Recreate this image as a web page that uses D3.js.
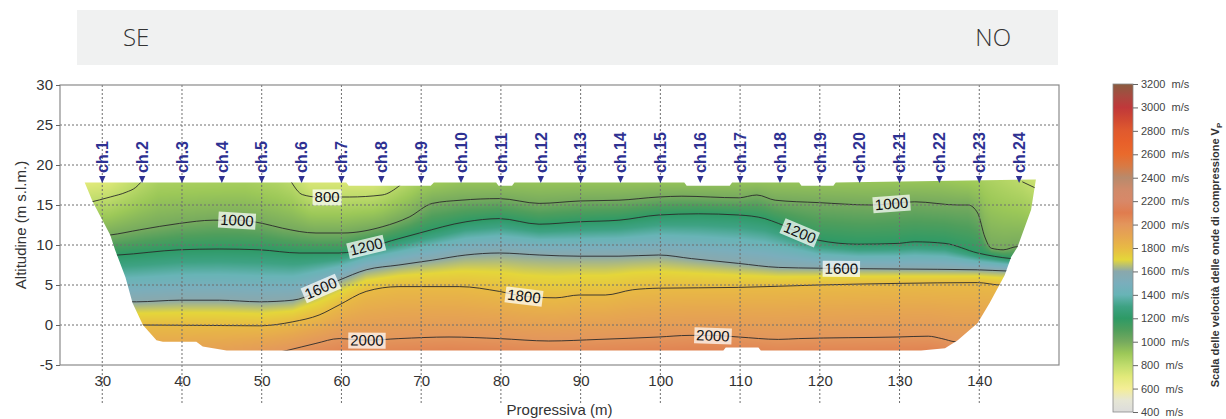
<!DOCTYPE html>
<html lang="it">
<head>
<meta charset="UTF-8">
<title>Sezione tomografica</title>
<style>
  body { margin: 0; background: #fff; }
  svg text { font-family: "Liberation Sans", Arial, sans-serif; }
</style>
</head>
<body>
<div id="chart"></div>
<script src="https://cdn.jsdelivr.net/npm/d3@7/dist/d3.min.js"></script>
<script>
const width = 1226, height = 419;

// ticks
const xTicks = [30, 40, 50, 60, 70, 80, 90, 100, 110, 120, 130, 140];
const yTicks = [-5, 0, 5, 10, 15, 20, 25, 30];
const legendTicks = [400, 600, 800, 1000, 1200, 1400, 1600, 1800, 2000, 2200, 2400, 2600, 2800, 3000, 3200];

// geofoni
const chNames = ["ch.1","ch.2","ch.3","ch.4","ch.5","ch.6","ch.7","ch.8","ch.9","ch.10","ch.11","ch.12",
                 "ch.13","ch.14","ch.15","ch.16","ch.17","ch.18","ch.19","ch.20","ch.21","ch.22","ch.23","ch.24"];
const chPos = [30, 35, 40, 45, 50, 55, 60, 65, 70, 75, 80, 85, 90, 95, 100, 105, 110, 115, 120, 125, 130, 135, 140, 145];

// scala colori Vp (m/s)
const vpStops  = [400, 500, 600, 700, 800, 900, 1000, 1100, 1200, 1300, 1400, 1500, 1600, 1700, 1800, 1900, 2000, 2100, 2200, 2300, 2400, 2500, 2600, 2700, 2800, 2900, 3000, 3100, 3200];
const vpColors = ["#dcdcdc", "#e6e6d4", "#f4ee96", "#e2ea7a", "#c0dc6c", "#9cc858", "#76aa5e", "#4f9e5c", "#2e9a66", "#3ea283",
                  "#68b4b6", "#7aaebc", "#8aa8ac", "#e4d63a", "#e8ba44", "#e6a650", "#e3965c", "#e07c4e", "#d88868", "#d08a6a",
                  "#b88a6c", "#d87a44", "#e96a2c", "#e8602a", "#e05a2e", "#d04832", "#c0383a", "#a84a40", "#8a5c40"];

// contorno della sezione [x, quota]
const sectionOutline = [[27.8,17.8],[60.6,17.8],[60.9,17.4],[71.2,17.4],[71.6,17.8],[79.4,17.8],[79.7,17.4],[81.4,17.4],[81.7,17.8],
  [103,17.8],[103.3,17.4],[108.7,17.4],[109,17.8],[117.4,17.8],[117.7,17.4],[121.7,17.4],[122,17.8],[147.1,18.2],[146.5,14.4],
  [144.8,9.75],[144,8.5],[143.2,6.25],[141.3,2.75],[139.8,0.25],[137.3,-1.9],[135.7,-2.9],[132.7,-3.2],[112.6,-3.2],[112.3,-2.8],
  [108.2,-2.8],[107.9,-3.2],[45.6,-3.2],[42.6,-2.7],[41.8,-2.1],[37.6,-2.1],[36.8,-1.9],[35.1,0],[33.8,2.75],[32.9,6],[31.6,9.4],
  [31,11.25],[28.8,15.4]];

// velocità in superficie
const surfX  = [27, 31, 34.7, 37, 48, 52, 53.8, 56, 64, 67.4, 70, 75, 135, 140, 145.4, 148];
const surfVp = [670, 700, 800, 850, 860, 830, 800, 710, 700, 790, 860, 900, 900, 870, 800, 740];

// isolinee [x, quota]
const iso800a = [[28.3,15.3],[31,16],[33,16.6],[34.2,17.2],[34.9,17.9]];
const iso800b = [[53.7,17.9],[55.1,16.3],[57,16.0],[61,16.0],[65.1,16.25],[67.4,17.5]];
const iso800c = [[145.4,17.9],[147.3,17.0]];
const iso1000 = [[27,11],[31,11.25],[34.7,11.9],[39.7,12.7],[43.9,13.1],[47,13.1],[50.1,12.7],[52.6,12.1],[56.8,11.5],[60.2,11.5],
  [65.2,12.3],[68.5,13.5],[71.4,15.2],[75,15.6],[79.8,15.8],[84.8,15.2],[89.8,15.5],[94.8,15.6],[99.8,16.0],[102.7,16.1],
  [109.8,15.9],[112.1,16.25],[114.4,15.6],[119.8,15.3],[126.5,15.0],[131.9,15.4],[137.3,15.0],[138.6,15.0],[139.8,14.0],
  [140.7,11.0],[141.5,9.6],[143,9.4],[144.8,9.8],[150,9.8]];
const iso1200 = [[27,8.6],[32,8.75],[39.7,9.4],[44.7,9.5],[49.7,9.4],[54.7,9.0],[59.7,9.0],[67.2,10.8],[69.8,11.5],[75.6,12.9],
  [79.8,13.3],[84.8,12.6],[89.8,12.9],[94.8,13.1],[99.8,13.75],[104.8,13.9],[109.8,13.75],[113.1,13.3],[114.8,12.7],[119.8,10.6],
  [124.8,10.1],[129.8,10.2],[131.9,10.4],[135.7,10.2],[139.8,9.0],[144,8.3],[150,8.0]];
const iso1600 = [[27,2.9],[34.3,2.9],[39.7,3.1],[44.7,3.1],[49.7,2.9],[53.9,3.1],[59.7,5.6],[63.1,6.9],[67.2,7.5],[71.4,8.1],
  [75.6,8.75],[79.8,9.0],[84.8,8.75],[89.8,8.6],[94.8,8.6],[99.8,8.75],[103.9,8.3],[109.8,7.7],[114.8,7.2],[119.8,7.1],
  [129.8,7.0],[139.8,6.9],[143.6,6.75],[150,6.7]];
const iso1800 = [[27,0],[35.1,0],[49.7,-0.1],[53.9,0.4],[57.2,1.25],[59.7,2.5],[63.1,4.2],[67.2,4.8],[74.8,4.8],[79.8,4.2],
  [82.9,3.6],[86.9,3.4],[89.8,3.75],[93.1,3.75],[96.5,4.4],[99.8,4.6],[109.8,4.7],[119.8,5.0],[129.8,5.2],[139.8,5.3],
  [142.7,5.0],[150,5.0]];
const iso2000 = [[27,-6],[45,-4.6],[53.1,-3.2],[56.8,-2.3],[59.7,-1.7],[63.2,-1.9],[67.2,-1.7],[73.5,-1.5],[79.8,-1.7],[86,-2.0],
  [92.3,-1.8],[99.8,-1.5],[103.6,-1.3],[106.4,-1.3],[109.8,-1.5],[114.8,-1.8],[117.3,-1.7],[129.8,-1.5],[133.6,-1.4],
  [135.3,-1.7],[137,-2.1],[150,-2.6]];

// etichette delle isolinee
const labelVp = [800, 1000, 1000, 1200, 1200, 1600, 1600, 1800, 2000, 2000];
const labelX  = [58.2, 46.9, 129, 63.1, 117.5, 57.4, 122.7, 82.9, 63.2, 106.6];

const svg = d3.select("#chart").append("svg")
    .attr("width", width)
    .attr("height", height);

const x = d3.scaleLinear().domain([24.7, 150]).range([60, 1059]);
const y = d3.scaleLinear().domain([-5, 30]).range([365, 85]);
const color = d3.scaleLinear().domain(vpStops).range(vpColors).clamp(true);

// interpolazione lineare su una polilinea
function zAt(pts, xv) {
    if (xv <= pts[0][0]) return pts[0][1];
    for (let i = 1; i < pts.length; i++) {
        if (xv <= pts[i][0]) {
            const t = (xv - pts[i - 1][0]) / (pts[i][0] - pts[i - 1][0]);
            return pts[i - 1][1] + t * (pts[i][1] - pts[i - 1][1]);
        }
    }
    return pts[pts.length - 1][1];
}
const surfPts = surfX.map((d, i) => [d, surfVp[i]]);

// banner SE / NO
svg.append("rect").attr("x", 77).attr("y", 10).attr("width", 981).attr("height", 55).attr("fill", "#f0f1f1");
svg.append("text").attr("x", 123).attr("y", 46).text("SE")
    .style("font-family", "'Open Sans', 'Noto Sans', sans-serif").style("font-weight", 300)
    .style("font-size", "24px").attr("fill", "#333");
svg.append("text").attr("x", 1011).attr("y", 46).attr("text-anchor", "end").text("NO")
    .style("font-family", "'Open Sans', 'Noto Sans', sans-serif").style("font-weight", 300)
    .style("font-size", "24px").attr("fill", "#333");

// campo di velocità su canvas
const x0 = 60, x1 = 1059, y0 = 85, y1 = 365;
const cw = x1 - x0, ch = y1 - y0;
const canvas = document.createElement("canvas");
canvas.width = cw; canvas.height = ch;
const ctx = canvas.getContext("2d");
const img = ctx.createImageData(cw, ch);
for (let i = 0; i < cw; i++) {
    const xv = x.invert(x0 + i + 0.5);
    const z2000 = zAt(iso2000, xv);
    const anchors = [
        [18.3, zAt(surfPts, xv)],
        [zAt(iso1000, xv), 1000],
        [zAt(iso1200, xv), 1200],
        [zAt(iso1600, xv), 1600],
        [zAt(iso1800, xv), 1800],
        [z2000, 2000],
        [z2000 - 4.5, 2180]
    ];
    for (let j = 0; j < ch; j++) {
        const zv = y.invert(y0 + j + 0.5);
        let v;
        if (zv >= anchors[0][0]) v = anchors[0][1];
        else if (zv <= anchors[anchors.length - 1][0]) v = anchors[anchors.length - 1][1];
        else {
            for (let k = 1; k < anchors.length; k++) {
                if (zv >= anchors[k][0]) {
                    const t = (anchors[k - 1][0] - zv) / (anchors[k - 1][0] - anchors[k][0]);
                    v = anchors[k - 1][1] + t * (anchors[k][1] - anchors[k - 1][1]);
                    break;
                }
            }
        }
        const c = d3.rgb(color(v));
        const p = (j * cw + i) * 4;
        img.data[p] = c.r; img.data[p + 1] = c.g; img.data[p + 2] = c.b; img.data[p + 3] = 255;
    }
}
ctx.putImageData(img, 0, 0);

const defs = svg.append("defs");
defs.append("clipPath").attr("id", "section")
    .append("path")
    .attr("d", d3.line().x(d => x(d[0])).y(d => y(d[1]))(sectionOutline) + "Z");

const field = svg.append("g").attr("clip-path", "url(#section)");
field.append("image")
    .attr("x", x0).attr("y", y0).attr("width", cw).attr("height", ch)
    .attr("preserveAspectRatio", "none")
    .attr("href", canvas.toDataURL());

// isolinee
const isoLine = d3.line().x(d => x(d[0])).y(d => y(d[1])).curve(d3.curveMonotoneX);
field.selectAll("path.iso")
    .data([iso800a, iso800b, iso800c, iso1000, iso1200, iso1600, iso1800, iso2000])
    .join("path")
    .attr("class", "iso")
    .attr("d", isoLine)
    .attr("fill", "none")
    .attr("stroke", "#2a2a2a")
    .attr("stroke-width", 0.9);

// griglia tratteggiata
const grid = svg.append("g").attr("stroke", "#6f6f6f").attr("stroke-width", 1).attr("stroke-dasharray", "2,2");
grid.selectAll("line.gx").data(xTicks).join("line")
    .attr("x1", d => x(d)).attr("x2", d => x(d))
    .attr("y1", y(30)).attr("y2", 403);
grid.selectAll("line.gy").data(yTicks.filter(d => d > -5 && d < 30)).join("line")
    .attr("x1", x0).attr("x2", x1)
    .attr("y1", d => y(d)).attr("y2", d => y(d));

// cornice
svg.append("rect").attr("x", x0).attr("y", y0).attr("width", cw).attr("height", ch)
    .attr("fill", "none").attr("stroke", "#8a8a8a").attr("stroke-width", 1.2);

// etichette isolinee
const isoByVp = {1000: iso1000, 1200: iso1200, 1600: iso1600, 1800: iso1800, 2000: iso2000};
const labels = svg.append("g");
labelVp.forEach((v, i) => {
    const pts = v === 800 ? iso800b : isoByVp[v];
    const xv = labelX[i];
    const px = x(xv), py = y(zAt(pts, xv));
    const a = Math.atan2(y(zAt(pts, xv + 1)) - y(zAt(pts, xv - 1)), x(xv + 1) - x(xv - 1)) * 180 / Math.PI;
    const g = labels.append("g").attr("transform", `translate(${px},${py}) rotate(${a})`);
    const box = g.append("rect");
    const t = g.append("text")
        .attr("text-anchor", "middle")
        .attr("dy", "0.36em")
        .style("font-size", "15px")
        .attr("fill", "#111")
        .text(v);
    const bb = t.node().getBBox();
    box.attr("x", bb.x - 2).attr("y", bb.y + 1).attr("width", bb.width + 4).attr("height", bb.height - 1)
        .attr("fill", "#ffffff").attr("fill-opacity", 0.72);
});

// assi
const yAxis = svg.append("g")
    .attr("transform", `translate(${x0},0)`)
    .call(d3.axisLeft(y).tickValues(yTicks).tickSize(4).tickPadding(3).tickFormat(d => String(d)));
const xAxis = svg.append("g")
    .attr("transform", `translate(0,${y1})`)
    .call(d3.axisBottom(x).tickValues(xTicks).tickSize(0).tickPadding(10).tickFormat(d => String(d)));
[yAxis, xAxis].forEach(a => {
    a.select(".domain").remove();
    a.selectAll("line").attr("stroke", "#666");
    a.selectAll("text").style("font-size", "15px").attr("fill", "#333")
        .style("font-family", "'Liberation Sans', Arial, sans-serif");
});

svg.append("text")
    .attr("x", (x0 + x1) / 2).attr("y", 415)
    .attr("text-anchor", "middle")
    .style("font-size", "15px").attr("fill", "#333")
    .text("Progressiva (m)");
svg.append("text")
    .attr("transform", `translate(26,${(y0 + y1) / 2}) rotate(-90)`)
    .attr("text-anchor", "middle")
    .style("font-size", "15px").attr("fill", "#333")
    .text("Altitudine (m s.l.m.)");

// geofoni
const chG = svg.append("g").selectAll("g").data(chNames).join("g")
    .attr("transform", (d, i) => `translate(${x(chPos[i])},0)`);
chG.append("path")
    .attr("d", "M-3.2,176 L3.2,176 L0,183 Z")
    .attr("fill", "#2e3192");
chG.append("text")
    .attr("transform", "translate(0,173) rotate(-90)")
    .attr("dy", "0.36em")
    .style("font-size", "16px").style("font-weight", "bold")
    .attr("fill", "#2e3192")
    .text(d => d);

// barra colori
const ly = d3.scaleLinear().domain([400, 3200]).range([412, 84]);
const grad = defs.append("linearGradient").attr("id", "vpGrad")
    .attr("x1", 0).attr("y1", 1).attr("x2", 0).attr("y2", 0);
grad.selectAll("stop").data(vpStops).join("stop")
    .attr("offset", d => (d - 400) / 2800)
    .attr("stop-color", (d, i) => vpColors[i]);
svg.append("rect")
    .attr("x", 1113).attr("y", 84).attr("width", 20).attr("height", 328)
    .attr("fill", "url(#vpGrad)").attr("stroke", "#8a8a8a").attr("stroke-width", 0.8);
const lAxis = svg.append("g")
    .attr("transform", "translate(1133,0)")
    .call(d3.axisRight(ly).tickValues(legendTicks).tickSize(5).tickPadding(3).tickFormat(d => d + "\u00a0\u00a0m/s"));
lAxis.select(".domain").remove();
lAxis.selectAll("line").attr("stroke", "#666");
lAxis.selectAll("text").style("font-size", "11px").attr("fill", "#444")
    .style("font-family", "'Liberation Sans', Arial, sans-serif");

const lt = svg.append("text")
    .attr("transform", "translate(1219,255) rotate(-90)")
    .attr("text-anchor", "middle")
    .style("font-size", "11px").style("font-weight", "bold").attr("fill", "#333");
lt.append("tspan").text("Scala delle velocità delle onde di compressione V");
lt.append("tspan").attr("dy", 3).style("font-size", "8px").text("P");
</script>
</body>
</html>
